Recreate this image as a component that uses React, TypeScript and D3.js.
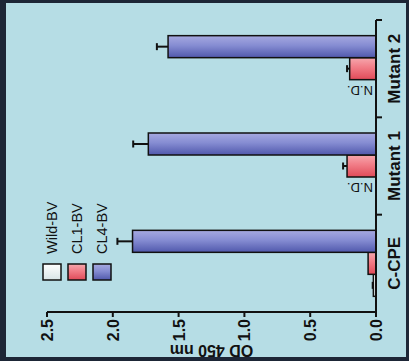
import React from 'react'
import * as d3 from 'd3'

// chart drawn upright, then the whole group is turned 90deg counter-clockwise
const W = 361

const categories = ['C-CPE', 'Mutant 1', 'Mutant 2']
const seriesNames = ['Wild-BV', 'CL1-BV', 'CL4-BV']
const wildValues: (number | null)[] = [0.02, null, null]
const cl1Values = [0.06, 0.22, 0.2]
const cl4Values = [1.85, 1.73, 1.58]
const wildErrors = [0.005, 0, 0]
const cl1Errors = [0, 0.03, 0.02]
const cl4Errors = [0.115, 0.115, 0.085]
const yTicks = [0, 0.5, 1, 1.5, 2, 2.5]

const fills = ['url(#gWhite)', 'url(#gRed)', 'url(#gBlue)']

const App = () => {
  const x = d3.scaleBand().domain(categories).range([49, 341]).padding(0)
  const y = d3.scaleLinear().domain([0, 2.5]).range([376, 47])
  const groupW = 66
  const inner = d3.scaleBand().domain(seriesNames).range([0, groupW]).padding(0)
  const fmt = d3.format('.1f')

  const rows = [
    { values: wildValues, errors: wildErrors },
    { values: cl1Values, errors: cl1Errors },
    { values: cl4Values, errors: cl4Errors }
  ]

  const groupStart = (c: string) => (x(c) as number) + (x.bandwidth() - groupW) / 2

  return (
    <div style={{ position: 'fixed', left: 0, top: 0 }}>
      <svg width={409} height={361} style={{ display: 'block', fontFamily: 'Liberation Sans, Arial, sans-serif' }}>
        <defs>
          <linearGradient id="gBlue" x1="0" x2="1" y1="0" y2="0">
            <stop offset="0%" stopColor="#5058ac" />
            <stop offset="55%" stopColor="#858cd2" />
            <stop offset="100%" stopColor="#a6a9e0" />
          </linearGradient>
          <linearGradient id="gRed" x1="0" x2="1" y1="0" y2="0">
            <stop offset="0%" stopColor="#e04a58" />
            <stop offset="60%" stopColor="#f2808a" />
            <stop offset="100%" stopColor="#f6a8ae" />
          </linearGradient>
          <linearGradient id="gWhite" x1="0" x2="1" y1="0" y2="0">
            <stop offset="0%" stopColor="#d8e4e6" />
            <stop offset="100%" stopColor="#ffffff" />
          </linearGradient>
        </defs>
        <rect x={0} y={0} width={409} height={361} fill="#1d2636" />
        <rect x={6} y={3} width={400} height={354} fill="#b6dde5" />
        <g transform={`translate(0,${W}) rotate(-90)`}>
          {/* bars */}
          {rows.map((r, si) =>
            categories.map((c, ci) => {
              const v = r.values[ci]
              const bx = groupStart(c) + (inner(seriesNames[si]) as number)
              const bw = inner.bandwidth()
              if (v === null) {
                return (
                  <text
                    key={`nd-${si}-${ci}`}
                    transform={`translate(${bx + bw / 2 + 4.6},373) rotate(-90)`}
                    fontSize={13}
                    fill="#111"
                  >
                    N.D.
                  </text>
                )
              }
              const e = r.errors[ci]
              return (
                <g key={`b-${si}-${ci}`}>
                  {e > 0 && (
                    <g stroke="#111" strokeWidth={2}>
                      <line x1={bx + bw / 2} x2={bx + bw / 2} y1={y(v)} y2={y(v + e)} />
                      <line x1={bx + bw / 2 - 3.5} x2={bx + bw / 2 + 3.5} y1={y(v + e)} y2={y(v + e)} />
                    </g>
                  )}
                  <rect
                    x={bx}
                    y={y(v)}
                    width={bw}
                    height={y(0) - y(v)}
                    fill={fills[si]}
                    stroke="#111"
                    strokeWidth={1.5}
                  />
                </g>
              )
            })
          )}

          {/* value axis */}
          <line x1={49} x2={49} y1={y(0)} y2={y(2.5)} stroke="#111" strokeWidth={2} />
          {yTicks.map(t => (
            <g key={`yt-${t}`}>
              <line x1={44} x2={49} y1={y(t)} y2={y(t)} stroke="#111" strokeWidth={2} />
              <text x={42} y={y(t) + 6} textAnchor="end" fontSize={16} fontWeight="bold" fill="#111">
                {fmt(t)}
              </text>
            </g>
          ))}
          <text
            transform={`translate(16,${(y(0) + y(2.5)) / 2}) rotate(-90)`}
            textAnchor="middle"
            fontSize={16}
            fontWeight="bold"
            fill="#111"
          >
            OD 450 nm
          </text>

          {/* category axis */}
          <line x1={49} x2={341} y1={y(0)} y2={y(0)} stroke="#111" strokeWidth={2} />
          {[...categories.map(c => x(c) as number), 341].slice(1).map(t => (
            <line key={`xt-${t}`} x1={t} x2={t} y1={y(0)} y2={y(0) + 6} stroke="#111" strokeWidth={2} />
          ))}
          {categories.map(c => (
            <text
              key={`xl-${c}`}
              x={(x(c) as number) + x.bandwidth() / 2}
              y={400}
              textAnchor="middle"
              fontSize={17}
              fontWeight="bold"
              fill="#111"
            >
              {c}
            </text>
          ))}

          {/* legend */}
          {seriesNames.map((s, i) => {
            const ly = 52 + i * 25
            return (
              <g key={`lg-${s}`}>
                <rect x={81} y={ly - 9} width={16} height={18} fill={fills[i]} stroke="#111" strokeWidth={1.5} />
                <text x={107} y={ly + 5} fontSize={14.5} fill="#111">
                  {s}
                </text>
              </g>
            )
          })}
        </g>
      </svg>
    </div>
  )
}

export default App
